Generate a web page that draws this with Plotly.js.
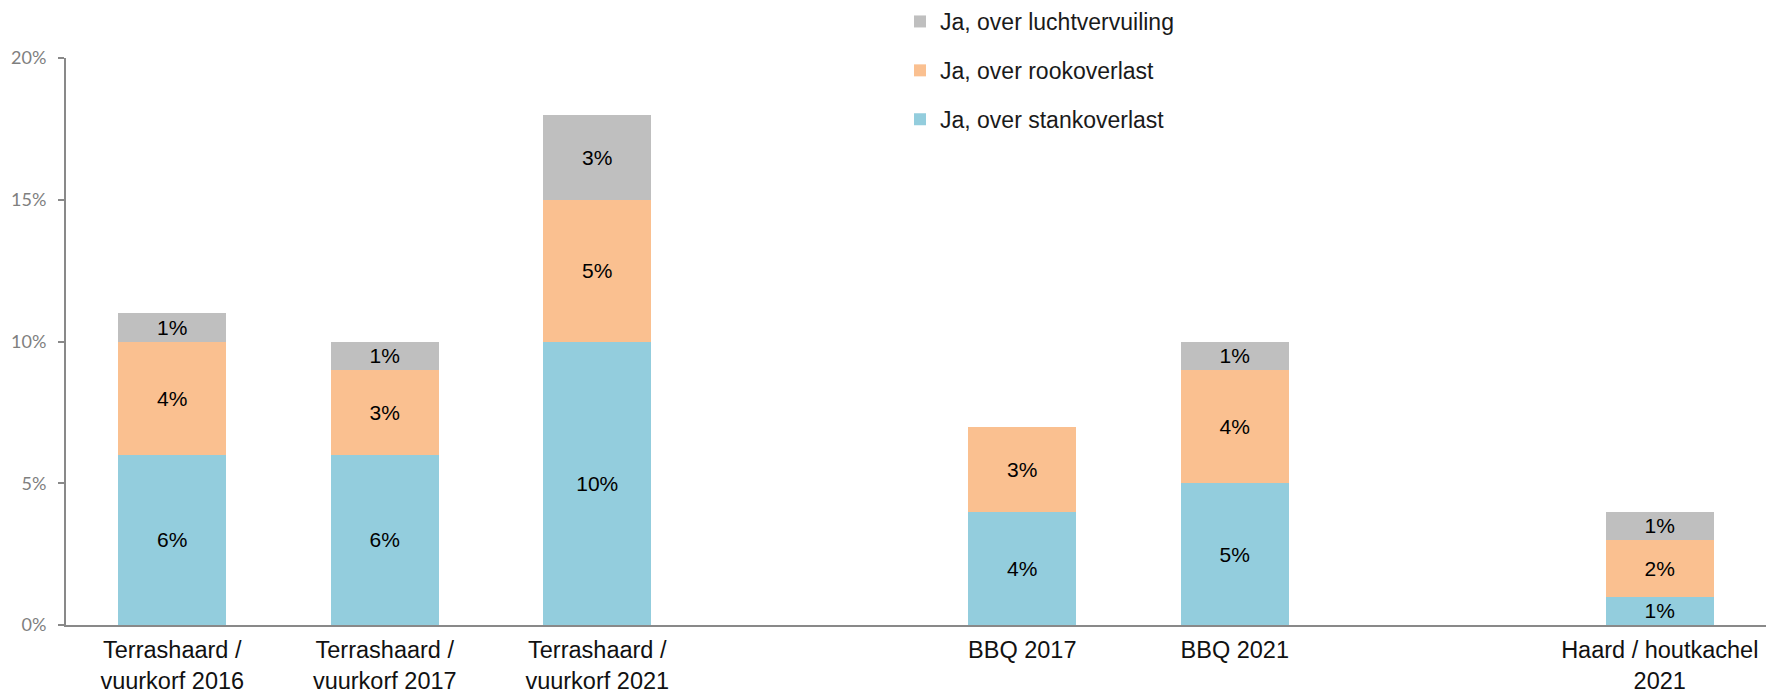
<!DOCTYPE html>
<html>
<head>
<meta charset="utf-8">
<script src="https://cdn.plot.ly/plotly-3.0.1.min.js"></script>
<style>
  html, body { margin: 0; padding: 0; background: #ffffff; }
  #chart { width: 1777px; height: 692px; }
</style>
</head>
<body>
<div id="chart"></div>
<script>
// Category keys (two empty slots separate the groups)
const categories = [
  'terras2016', 'terras2017', 'terras2021', 'gap1',
  'bbq2017', 'bbq2021', 'gap2', 'haard2021'
];
const tickLabels = [
  'Terrashaard /<br>vuurkorf 2016',
  'Terrashaard /<br>vuurkorf 2017',
  'Terrashaard /<br>vuurkorf 2021',
  '',
  'BBQ 2017',
  'BBQ 2021',
  '',
  'Haard / houtkachel<br>2021'
];

// Values in percent
const stankoverlast    = [6, 6, 10, null, 4, 5, null, 1];
const rookoverlast     = [4, 3, 5,  null, 3, 4, null, 2];
const luchtvervuiling  = [1, 1, 3,  null, null, 1, null, 1];

const seriesNames = ['Ja, over stankoverlast', 'Ja, over rookoverlast', 'Ja, over luchtvervuiling'];
const seriesColors = ['#93CDDD', '#FAC090', '#BFBFBF'];
const seriesValues = [stankoverlast, rookoverlast, luchtvervuiling];
const legendRanks = [3, 2, 1];

const labelFont = { family: 'Liberation Sans, Arial, sans-serif', size: 21, color: '#000000' };

const traces = seriesValues.map((vals, i) => ({
  type: 'bar',
  name: seriesNames[i],
  legendgroup: 'g' + i,
  legendrank: legendRanks[i],
  x: categories,
  y: vals,
  marker: { color: seriesColors[i], line: { width: 0 } },
  text: vals.map(v => (v === null ? '' : v + '%')),
  texttemplate: '%{text}',
  textposition: 'inside',
  insidetextanchor: 'middle',
  textangle: 0,
  constraintext: 'none',
  insidetextfont: labelFont,
  hoverinfo: 'skip'
}));

const layout = {
  width: 1777,
  height: 692,
  margin: { l: 66, r: 11, t: 58, b: 67, pad: 0, autoexpand: false },
  paper_bgcolor: '#ffffff',
  plot_bgcolor: '#ffffff',
  barmode: 'stack',
  bargap: 0.49,
  showlegend: true,
  legend: {
    traceorder: 'grouped',
    tracegroupgap: 16,
    xref: 'container',
    yref: 'container',
    x: 900 / 1777,
    xanchor: 'left',
    y: 1,
    yanchor: 'top',
    itemwidth: 30,
    bgcolor: 'rgba(0,0,0,0)',
    borderwidth: 0,
    font: { family: 'Liberation Sans, Arial, sans-serif', size: 23, color: '#1a1a1a' }
  },
  xaxis: {
    type: 'category',
    categoryorder: 'array',
    categoryarray: categories,
    tickmode: 'array',
    tickvals: categories,
    ticktext: tickLabels,
    tickangle: 0,
    showgrid: false,
    zeroline: false,
    showline: true,
    linecolor: '#898989',
    linewidth: 2,
    ticks: '',
    ticklabelstandoff: 3,
    tickfont: { family: 'Liberation Sans, Arial, sans-serif', size: 23.5, color: '#111111' },
    fixedrange: true
  },
  yaxis: {
    range: [0, 20],
    tickmode: 'linear',
    tick0: 0,
    dtick: 5,
    ticksuffix: '%',
    showgrid: false,
    zeroline: false,
    showline: true,
    linecolor: '#898989',
    linewidth: 2,
    ticks: 'outside',
    ticklen: 6,
    tickwidth: 2,
    tickcolor: '#898989',
    ticklabelstandoff: 8,
    tickfont: { family: 'Lato, Carlito, sans-serif', size: 18, color: '#7f7f7f' },
    fixedrange: true
  }
};

Plotly.newPlot('chart', traces, layout, { displayModeBar: false, staticPlot: true });
</script>
</body>
</html>
